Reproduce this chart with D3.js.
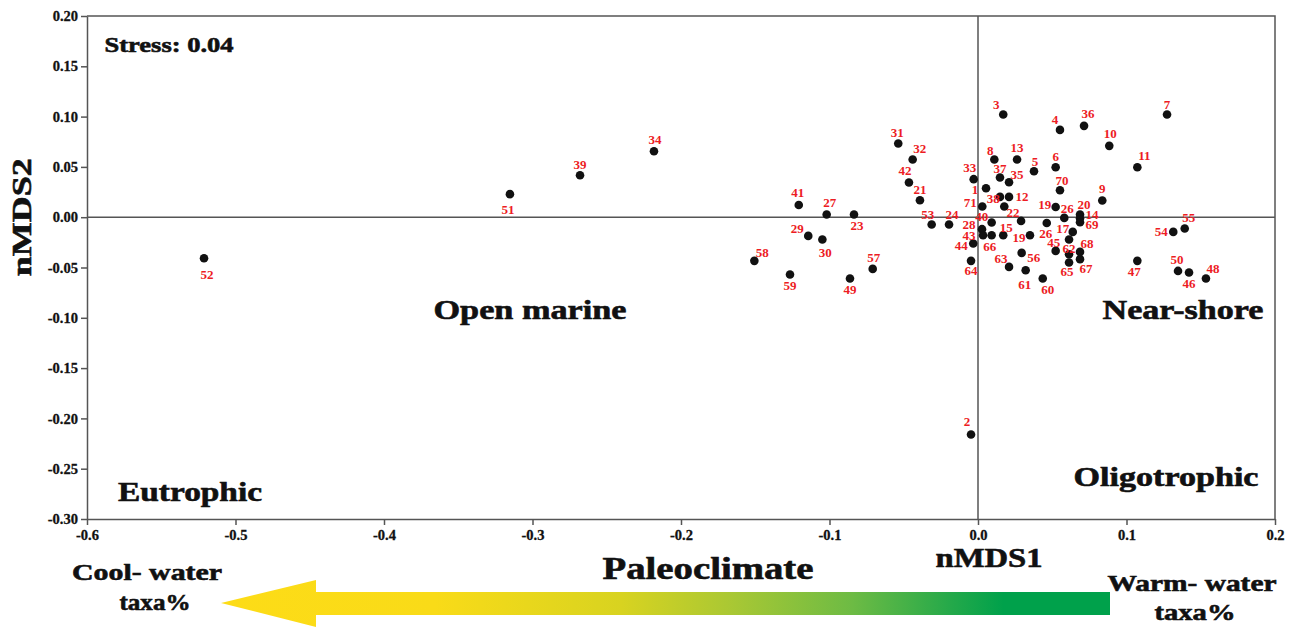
<!DOCTYPE html>
<html>
<head>
<meta charset="utf-8">
<script src="https://cdn.jsdelivr.net/npm/d3@7"></script>
<style>
  body { margin: 0; background: #fff; }
  .tick text { font-family: "Liberation Serif", serif; font-weight: bold; font-size: 14.5px; fill: #111; stroke: #111; stroke-width: 0.3; }
  .tick line, .domain { stroke: #555; stroke-width: 1.5; }
  .big { font-family: "Liberation Serif", serif; font-weight: bold; fill: #111; stroke: #111; stroke-width: 0.6; }
  .lbl { font-family: "Liberation Serif", serif; font-weight: bold; font-size: 13px; fill: #ed1c24; }
</style>
</head>
<body>
<div id="chart"></div>
<script>
// sample labels ("" = unlabeled point)
var samples = ["1","2","3","4","5","6","7","8","9","10","11","12","13","14","15","","17","","19","19","20","21","22","23","24","26","26","27","28","29","30","31","32","33","34","35","36","37","38","39","40","41","42","43","44","45","46","47","48","49","50","51","52","53","54","55","56","57","58","59","60","61","62","63","64","65","66","67","68","69","70","71"];

var nmds1 = [0.0054,-0.0047,0.0170,0.0552,0.0377,0.0523,0.1273,0.0110,0.0837,0.0884,0.1073,0.0209,0.0263,0.0687,0.0170,0.0148,0.0638,0.0613,0.0523,0.0350,0.0687,-0.0391,0.0290,-0.0835,-0.0195,0.0581,0.0463,-0.1019,0.0027,-0.1143,-0.1048,-0.0537,-0.0440,-0.0029,-0.2182,0.0209,0.0714,0.0148,0.0177,-0.2680,0.0092,-0.1207,-0.0465,0.0034,-0.0032,0.0523,0.1421,0.1073,0.1535,-0.0862,0.1347,-0.3152,-0.5212,-0.0312,0.1315,0.1392,0.0294,-0.0709,-0.1506,-0.1266,0.0436,0.0321,0.0613,0.0209,-0.0047,0.0613,0.0092,0.0687,0.0687,0.0687,0.0552,0.0029];

var nmds2 = [0.0288,-0.2160,0.1021,0.0868,0.0457,0.0497,0.1021,0.0574,0.0166,0.0709,0.0497,0.0202,0.0574,-0.0010,-0.0179,0.0202,-0.0146,-0.0222,0.0102,-0.0179,0.0027,0.0169,-0.0037,0.0027,-0.0073,-0.0007,-0.0057,0.0027,-0.0119,-0.0186,-0.0222,0.0733,0.0574,0.0378,0.0656,0.0348,0.0908,0.0395,0.0106,0.0417,-0.0053,0.0122,0.0345,-0.0179,-0.0261,-0.0335,-0.0550,-0.0434,-0.0609,-0.0609,-0.0534,0.0229,-0.0408,-0.0073,-0.0146,-0.0112,-0.0355,-0.0514,-0.0434,-0.0570,-0.0609,-0.0527,-0.0368,-0.0494,-0.0434,-0.0450,-0.0179,-0.0417,-0.0345,-0.0050,0.0268,0.0106];

var xTicks = [-0.6,-0.5,-0.4,-0.3,-0.2,-0.1,0.0,0.1,0.2];
var yTicks = [0.20,0.15,0.10,0.05,0.00,-0.05,-0.10,-0.15,-0.20,-0.25,-0.30];

// label placement (pixel offsets from the dot), one per sample
var labelOffsets = [[-11,1],[-4,-13],[-7,-10],[-5,-10],[1,-10],[0,-11],[0,-10],[-4,-9],[0,-12],[1,-12],[7,-12],[13,0],[0,-12],[12,-4],[3,-8],[0,0],[-10,-3],[0,0],[-11,-2],[-11,2],[4,-10],[0,-11],[-8,-8],[3,11],[3,-10],[3,-9],[-1,11],[3,-12],[-13,-5],[-11,-7],[3,13],[-1,-11],[7,-11],[-4,-12],[1,-12],[8,-8],[4,-12],[0,-9],[-11,-8],[0,-11],[-10,-6],[-1,-12],[-4,-12],[-14,0],[-12,2],[-2,-8],[0,11],[-3,11],[7,-10],[0,11],[-1,-11],[-2,15],[3,16],[-4,-10],[-12,0],[4,-11],[12,5],[1,-11],[8,-8],[0,11],[5,11],[-1,14],[0,-6],[-8,-8],[0,10],[-2,9],[-2,11],[6,9],[7,-8],[12,2],[2,-10],[-12,-4]];

var svgWidth = 1297;
var svgHeight = 627;
var plot = { left: 87, right: 1275, top: 16, bottom: 519 };

var svg = d3.select("#chart")
  .append("svg")
  .attr("width", svgWidth)
  .attr("height", svgHeight);

var x = d3.scaleLinear().domain([-0.6, 0.2]).range([plot.left, plot.right]);
var y = d3.scaleLinear().domain([-0.3, 0.2]).range([plot.bottom, plot.top]);

// frame (top + right)
svg.append("path")
  .attr("d", `M${plot.left},${plot.top}H${plot.right}V${plot.bottom}`)
  .attr("fill", "none")
  .attr("stroke", "#555")
  .attr("stroke-width", 1.5);

// zero lines
svg.append("line")
  .attr("x1", plot.left).attr("x2", plot.right)
  .attr("y1", y(0)).attr("y2", y(0))
  .attr("stroke", "#555").attr("stroke-width", 1.5);
svg.append("line")
  .attr("x1", x(0)).attr("x2", x(0))
  .attr("y1", plot.top).attr("y2", plot.bottom)
  .attr("stroke", "#555").attr("stroke-width", 1.5);

// axes
svg.append("g")
  .attr("transform", `translate(0, ${plot.bottom})`)
  .call(d3.axisBottom(x).tickValues(xTicks).tickFormat(d => d.toFixed(1)).tickSize(6).tickSizeOuter(0))
  .selectAll("text").attr("dy", "0.85em");

svg.append("g")
  .attr("transform", `translate(${plot.left}, 0)`)
  .call(d3.axisLeft(y).tickValues(yTicks).tickFormat(d => d.toFixed(2)).tickSize(6).tickSizeOuter(0));

// points
var pts = samples.map((s, i) => ({ id: s, a: nmds1[i], b: nmds2[i], off: labelOffsets[i] }));

svg.selectAll("circle.pt")
  .data(pts)
  .enter()
  .append("circle")
  .attr("class", "pt")
  .attr("cx", d => x(d.a))
  .attr("cy", d => y(d.b))
  .attr("r", 4.3)
  .attr("fill", "#111");

svg.selectAll("text.lbl")
  .data(pts.filter(d => d.id !== ""))
  .enter()
  .append("text")
  .attr("class", "lbl")
  .attr("x", d => x(d.a) + d.off[0])
  .attr("y", d => y(d.b) + d.off[1])
  .attr("dy", "0.35em")
  .attr("text-anchor", "middle")
  .text(d => d.id);

// text helper, width forced to match the original lettering
function note(t, px, py, size, w) {
  return svg.append("text")
    .attr("class", "big")
    .attr("x", px).attr("y", py)
    .attr("text-anchor", "middle")
    .attr("font-size", size)
    .attr("textLength", w)
    .attr("lengthAdjust", "spacingAndGlyphs")
    .text(t);
}

// axis titles
note("nMDS2", 0, 0, 28, 118)
  .attr("transform", `translate(31, ${y(0)}) rotate(-90)`);
note("nMDS1", 989, 567, 28, 107);

// annotations
note("Stress: 0.04", 169, 52, 22, 129);
note("Open marine", 530, 319, 27, 193);
note("Near-shore", 1183, 319, 27, 161);
note("Eutrophic", 190, 501, 27, 144);
note("Oligotrophic", 1166, 486, 27, 185);
note("Paleoclimate", 708, 579, 31, 211);
note("Cool- water", 147, 580, 23, 150);
note("taxa%", 155, 610, 23, 71);
note("Warm- water", 1192, 591, 23, 169);
note("taxa%", 1195, 620, 23, 81);

// paleoclimate arrow
var grad = svg.append("defs").append("linearGradient")
  .attr("id", "arrowGrad")
  .attr("gradientUnits", "userSpaceOnUse")
  .attr("x1", 221).attr("x2", 1110).attr("y1", 0).attr("y2", 0);
[[0, "#fddc17"], [0.24, "#f9db18"], [0.45, "#d8d320"], [0.57, "#abc833"], [0.71, "#6dbb44"], [0.82, "#25a94a"], [0.88, "#00a14b"], [1, "#00a14b"]].forEach(function(s) {
  grad.append("stop").attr("offset", s[0]).attr("stop-color", s[1]);
});

svg.append("path")
  .attr("d", "M221,603 L316,580 L316,592 L1110,592 L1110,615 L316,615 L316,627 Z")
  .attr("fill", "url(#arrowGrad)");
</script>
</body>
</html>
